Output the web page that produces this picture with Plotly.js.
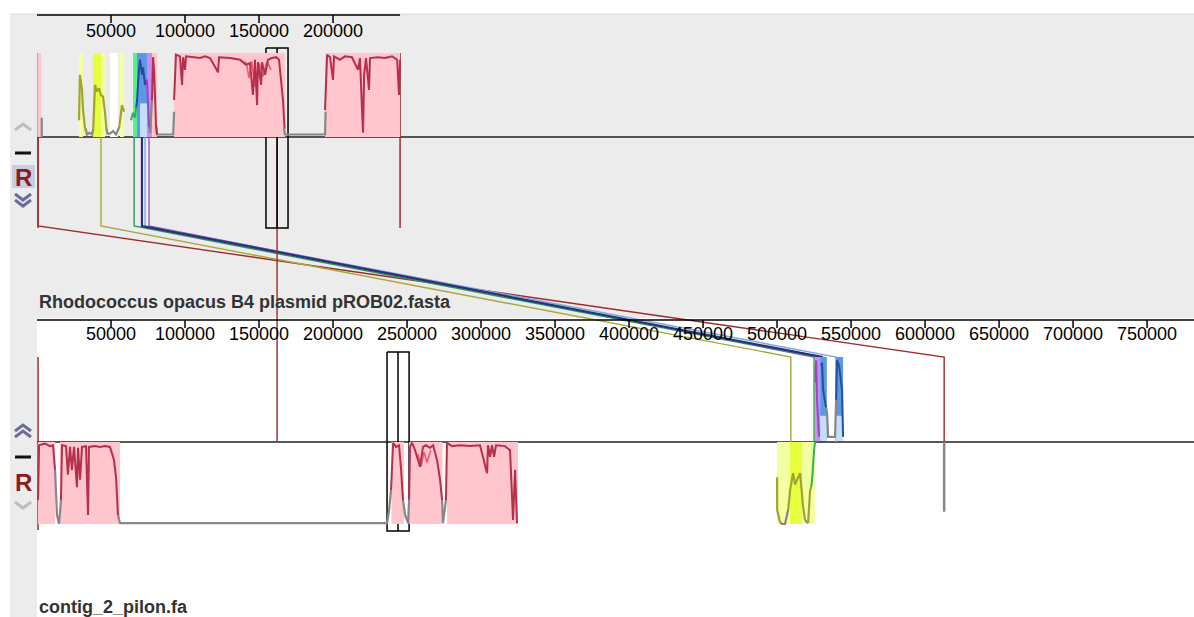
<!DOCTYPE html>
<html><head><meta charset="utf-8">
<script src="https://cdn.plot.ly/plotly-3.0.1.min.js"></script>
<style>html,body{margin:0;padding:0;background:#fff;overflow:hidden}#chart{width:1194px;height:617px}</style>
</head><body><div id="chart"></div>
<script>
// ================= DATA (base pairs / similarity 0..1) =================
const genomeNames = ["Rhodococcus opacus B4 plasmid pROB02.fasta", "contig_2_pilon.fa"];
const viewEndBp = 781700;
const g1LengthBp = 245300;
const g1TickVals = [50000, 100000, 150000, 200000];
const g2TickVals = [50000, 100000, 150000, 200000, 250000, 300000, 350000, 400000, 450000, 500000, 550000, 600000, 650000, 700000, 750000];

// ---- genome 1 (upper) segments ----
const g1PinkStart = [300, 77700, 92600, 194600];
const g1PinkEnd   = [3000, 81100, 167600, 245300];
const g1YellowPaleStart = [28400, 43200, 56100];
const g1YellowPaleEnd   = [31100, 46000, 58800];
const g1YellowBrightStart = [37800];
const g1YellowBrightEnd   = [43200];
const g1WhiteStart = [49300];
const g1WhiteEnd   = [54700];
const g1GreenStart = [64900];
const g1GreenEnd   = [67600];
const g1BlueStart = [67600];
const g1BlueEnd   = [74300];
const g1LightBlueStart = [69600];
const g1LightBlueEnd   = [74300];
const g1LightBlueTop   = [0.4];
const g1PurpleStart = [74300];
const g1PurpleEnd   = [77700];

const g1RedProfPos = [77700, 78400, 79100, 79700, 80400, 81100, null,
  92600, 93200, 93900, 96600, 98000, 98700, 100000, 100700, 106800, 110100, 113500, 116900, 122300, 123000, 130400, 137200, 141200, 143900, 145900, 147300, 148700, 149300, 151400, 152000, 154100, 156100, 158800, 161500, 163500, 164900, 166200, 167300, null,
  194600, 195300, 196000, 198000, 200000, 200700, 204700, 208100, 212800, 216900, 218200, 219600, 220300, 221000, 222300, 224300, 225000, 230400, 235100, 239900, 243300, 244600, 245300];
const g1RedProfSim = [0.44, 0.95, 0.8, 0.44, 0.14, 0.03, null,
  0.44, 0.8, 0.98, 0.96, 0.62, 0.95, 0.8, 0.96, 0.95, 0.94, 0.96, 0.94, 0.77, 0.95, 0.94, 0.92, 0.86, 0.88, 0.5, 0.92, 0.38, 0.89, 0.62, 0.89, 0.74, 0.92, 0.94, 0.95, 0.92, 0.68, 0.44, 0.1, null,
  0.32, 0.8, 0.98, 0.95, 0.68, 0.96, 0.92, 0.96, 0.95, 0.8, 0.94, 0.32, 0.05, 0.74, 0.94, 0.56, 0.94, 0.95, 0.94, 0.96, 0.92, 0.5, 0.92];
const g1LightRedProfPos = [140500, 141900, 143200, 145000, 147300, 150000, 152700, 155400, 158100];
const g1LightRedProfSim = [0.9, 0.84, 0.7, 0.9, 0.6, 0.88, 0.72, 0.9, 0.8];
const g1OliveProfPos = [28400, 29000, 30400, 31100, 32400, 33400, null, 38000, 38500, 39200, 40500, 41900, 43200, 44600, 45900, 47000, null, 55600, 56100, 57400, 58400, 58800];
const g1OliveProfSim = [0.2, 0.74, 0.56, 0.32, 0.11, 0.05, null, 0.1, 0.44, 0.62, 0.54, 0.58, 0.5, 0.48, 0.3, 0.08, null, 0.12, 0.2, 0.38, 0.33, 0.3];
const g1GreenProfPos = [63500, 64900, 66200, 67000];
const g1GreenProfSim = [0.2, 0.29, 0.23, 0.35];
const g1NavyProfPos = [67000, 67600, 68900, 69600, 71000, 71600, 73000, 74300];
const g1NavyProfSim = [0.35, 0.44, 0.8, 0.92, 0.74, 0.83, 0.62, 0.68];
const g1PurpleProfPos = [74300, 75000, 75700];
const g1PurpleProfSim = [0.68, 0.32, 0.12];
const g1GrayProfPos = [3200, 3200, null, 32900, 33800, 35500, 37200, 38100, null, 46900, 47600, 49300, 51400, 53400, 54700, 55600, null, 75600, 76400, 77700, null, 80400, 81100, 92000, 92600, null, 166900, 167600, 194600, 195000];
const g1GrayProfSim = [0.23, 0, null, 0.1, 0.03, 0.05, 0.03, 0.1, null, 0.1, 0.04, 0.04, 0.07, 0.03, 0.08, 0.12, null, 0.15, 0.05, 0.44, null, 0.14, 0.03, 0.03, 0.3, null, 0.1, 0.03, 0.03, 0.3];

// ---- genome 2 (lower) segments ----
const g2PinkStart = [700, 15500, 239500, 251400, 277000];
const g2PinkEnd   = [12300, 56100, 248000, 274000, 325000];
const g2RedProfPos = [700, 1400, 5400, 8800, 10800, 12200, null, 16200, 16900, 19600, 20900, 22300, 23600, 25000, 27000, 27700, 29100, 30400, 33100, 34500, 35100, 39200, 42600, 45900, 49300, 52000, 53400, 54700, null,
  239200, 239900, 240600, 242600, 244600, 246000, 247300, null, 251400, 252000, 253400, 255400, 257400, 258800, 260800, 262800, 265500, 267600, 270300, 272300, 273700, null,
  276300, 277000, 280400, 285800, 292600, 299300, 304100, 304700, 306100, 307400, 308800, 310100, 316200, 319600, 321600, 323000, 324300];
const g2RedProfSim = [0.29, 0.96, 0.98, 0.95, 0.96, 0.66, null, 0.29, 0.96, 0.95, 0.6, 0.94, 0.66, 0.94, 0.45, 0.93, 0.54, 0.94, 0.95, 0.11, 0.94, 0.95, 0.94, 0.95, 0.94, 0.78, 0.57, 0.11, null,
  0.41, 0.82, 0.99, 0.94, 0.96, 0.66, 0.29, null, 0.3, 0.94, 0.99, 0.9, 0.78, 0.7, 0.94, 0.96, 0.93, 0.96, 0.78, 0.54, 0.29, null,
  0.29, 0.99, 0.95, 0.96, 0.95, 0.96, 0.62, 0.96, 0.82, 0.96, 0.82, 0.96, 0.95, 0.9, 0.05, 0.66, 0.01];
const g2LightRedProfPos = [257400, 259500, 261500, 263500, 266000];
const g2LightRedProfSim = [0.85, 0.7, 0.88, 0.75, 0.9];
const g2GrayProfPos = [12200, 13500, 14900, 16200, null, 54700, 56100, 236500, 237900, 239200, null, 247300, 248700, 250700, 251400, null, 273700, 274300, 276300, null,
  502000, 503500, 505400, 507500, null, 518900, 521000];
const g2GrayProfSim = [0.66, 0.11, 0.0, 0.29, null, 0.11, 0.01, 0.01, 0.17, 0.41, null, 0.29, 0.11, 0.01, 0.3, null, 0.29, 0.01, 0.29, null,
  0.02, 0.0, 0.0, 0.17, null, 0.05, 0.01];
const g2YellowPaleStart = [500000, 516900];
const g2YellowPaleEnd   = [508800, 525700];
const g2YellowBrightStart = [508800];
const g2YellowBrightEnd   = [516900];
const g2OliveProfPos = [500000, 500100, 502000, null, 507500, 508800, 510800, 512200, 513500, 515600, 517600, 518900, null, 521000, 522300, 523000];
const g2OliveProfSim = [0.57, 0.17, 0.02, null, 0.17, 0.41, 0.62, 0.48, 0.54, 0.62, 0.21, 0.05, null, 0.01, 0.41, 0.45];
const g2GreenProfPos = [523000, 523700, 525000, 525700];
const g2GreenProfSim = [0.45, 0.54, 0.9, 1.0];
// forward-strand blocks of genome 2 (above its centre line)
const g2PurpleStart = [525700];
const g2PurpleEnd   = [529100];
const g2BlueStart = [529100, 539600];
const g2BlueEnd   = [533600, 544600];
const g2LightBlueTop = [0.3, 0.3];
const g2PurpleProfPos = [526000, 526400, 527000, 528400];
const g2PurpleProfSim = [0.7, 0.96, 0.49, 0.05];
const g2BlueProfPos = [529700, 530400, 531100, 532400, 533100, null, 539900, 540500, 541900, 543900, 544600];
const g2BlueProfSim = [0.9, 0.93, 0.61, 0.49, 0.4, null, 0.49, 0.96, 0.9, 0.61, 0.05];
const g2FwdGrayProfPos = [533100, 533800, 534500, 539200, 539900];
const g2FwdGrayProfSim = [0.4, 0.33, 0.05, 0.05, 0.49];
const g2TinyBlockPos = [612900, 612900];
const g2TinyBlockSim = [1.0, 0.15];

// ---- LCB connecting lines (genome1 position -> genome2 position) ----
const connKey    = ["red", "olive", "green", "lightblue", "purple", "navy", "red"];
const connG1Pos  = [700, 43200, 65600, 73000, 75700, 70900, 162200];
const connG2Pos  = [612900, 509300, 525000, 539900, 527000, 530400, 162200];
// LCB boundary markers
const g1BoundaryPos = [700, 245300];
const g2BoundaryPos = [700];
// selection boxes (start, divider, end)
const g1BoxPos = [154700, 162200, 169600];
const g2BoxPos = [236500, 243900, 251400];

// ================= STYLE / GEOMETRY =================
const W = 1194, H = 617, X0 = 37;
const GEO = {upRuler: 15, upTop: 53, upCenter: 137, upLineEnd: 226, upBoxTop: 48, upBoxBot: 228, upBoundBot: 228,
  split: 318, lowRuler: 320, lowLineStart: 357, lowCenter: 442, lowBottom: 524, lowBoxTop: 352, lowBoxBot: 531, lowBoundBot: 530, tickLen: 8};
const C = {pink: '#ffc6ce', red: '#b5304a', lightRed: '#ee5c78', gray: '#878787', olive: '#a3a332', yPale: '#f3ffa0', yBright: '#e6ff3c',
  green: '#2fb35a', greenFill: '#55f08a', blue: '#5b98e6', lightBlue: '#c4defc', navy: '#2a4c9c', purple: '#9b45c9',
  purpleFill: '#c98cf2', white: '#ffffff'};
const connColor = {red: '#9e2a2a', olive: '#a6a83e', green: '#2e9a50', navy: '#26337a', purple: '#9a55c6', lightblue: '#7ea8dc'};
const connWidth = {red: 1.4, olive: 1.4, green: 1.4, navy: 2.2, purple: 1.4, lightblue: 1.4};

const traces = [];
function rects(xa, ya, starts, ends, color, tops) {
  const xs = [], ys = [];
  starts.forEach((s, i) => {
    const t = tops ? tops[i] : 1;
    xs.push(s, s, ends[i], ends[i], s, null);
    ys.push(0, t, t, 0, 0, null);
  });
  traces.push({type: 'scatter', mode: 'lines', xaxis: xa, yaxis: ya, x: xs, y: ys, fill: 'toself',
    fillcolor: color, line: {width: 0, color: color}, hoverinfo: 'skip'});
}
function line(xa, ya, xs, ys, color, width) {
  traces.push({type: 'scatter', mode: 'lines', xaxis: xa, yaxis: ya, x: xs, y: ys,
    line: {color: color, width: width || 2}, hoverinfo: 'skip', connectgaps: false});
}
function tickMarks(vals, y0) {
  const xs = [], ys = [];
  vals.forEach(v => { xs.push(v, v, null); ys.push(y0, y0 + GEO.tickLen, null); });
  line('x', 'y', xs, ys, '#000', 1.5);
}

// frame decorations on (x, y): rulers and centre lines
line('x', 'y', [0, g1LengthBp], [GEO.upRuler, GEO.upRuler], '#000', 1.5);
line('x', 'y', [0, viewEndBp], [GEO.upCenter, GEO.upCenter], '#222', 1.5);

// genome 1 track (x, y2)
rects('x', 'y2', g1PinkStart, g1PinkEnd, C.pink);
rects('x', 'y2', g1YellowPaleStart, g1YellowPaleEnd, C.yPale);
rects('x', 'y2', g1YellowBrightStart, g1YellowBrightEnd, C.yBright);
rects('x', 'y2', g1WhiteStart, g1WhiteEnd, C.white);
rects('x', 'y2', g1GreenStart, g1GreenEnd, C.greenFill);
rects('x', 'y2', g1BlueStart, g1BlueEnd, C.blue);
rects('x', 'y2', g1LightBlueStart, g1LightBlueEnd, C.lightBlue, g1LightBlueTop);
rects('x', 'y2', g1PurpleStart, g1PurpleEnd, C.purpleFill);
line('x', 'y2', g1GrayProfPos, g1GrayProfSim, C.gray, 2.2);
line('x', 'y2', g1LightRedProfPos, g1LightRedProfSim, C.lightRed, 1.6);
line('x', 'y2', g1RedProfPos, g1RedProfSim, C.red, 2);
line('x', 'y2', g1OliveProfPos, g1OliveProfSim, C.olive, 2.2);
line('x', 'y2', g1GreenProfPos, g1GreenProfSim, C.green, 2);
line('x', 'y2', g1NavyProfPos, g1NavyProfSim, C.navy, 2);
line('x', 'y2', g1PurpleProfPos, g1PurpleProfSim, C.purple, 2);

// genome 2 reverse blocks (x2, y4) and forward blocks (x2, y3)
rects('x2', 'y4', g2PinkStart, g2PinkEnd, C.pink);
rects('x2', 'y4', g2YellowPaleStart, g2YellowPaleEnd, C.yPale);
rects('x2', 'y4', g2YellowBrightStart, g2YellowBrightEnd, C.yBright);
line('x2', 'y4', g2GrayProfPos, g2GrayProfSim, C.gray, 2.2);
line('x2', 'y4', g2LightRedProfPos, g2LightRedProfSim, C.lightRed, 1.6);
line('x2', 'y4', g2RedProfPos, g2RedProfSim, C.red, 2);
line('x2', 'y4', g2OliveProfPos, g2OliveProfSim, C.olive, 2.2);
line('x2', 'y4', g2GreenProfPos, g2GreenProfSim, C.green, 2);
line('x2', 'y4', g2TinyBlockPos, g2TinyBlockSim, C.gray, 2.5);
rects('x2', 'y3', g2PurpleStart, g2PurpleEnd, C.purpleFill);
rects('x2', 'y3', g2BlueStart, g2BlueEnd, C.blue);
rects('x2', 'y3', g2BlueStart, g2BlueEnd, C.lightBlue, g2LightBlueTop);
line('x2', 'y3', g2FwdGrayProfPos, g2FwdGrayProfSim, C.gray, 2.2);
line('x2', 'y3', g2PurpleProfPos, g2PurpleProfSim, C.purple, 2);
line('x2', 'y3', g2BlueProfPos, g2BlueProfSim, C.navy, 2);

// lower centre line
line('x', 'y', [0, viewEndBp], [GEO.lowCenter, GEO.lowCenter], '#222', 1.5);

// boundaries
g1BoundaryPos.forEach(p => line('x', 'y', [p, p], [GEO.upTop, GEO.upBoundBot], connColor.red, 1.5));
g2BoundaryPos.forEach(p => line('x', 'y', [p, p], [GEO.lowLineStart, GEO.lowBoundBot], connColor.red, 1.5));

// connectors
connKey.forEach((k, i) => {
  const a = connG1Pos[i], b = connG2Pos[i];
  line('x', 'y', [a, a, b, b], [GEO.upCenter, GEO.upLineEnd, GEO.lowLineStart, GEO.lowCenter], connColor[k], connWidth[k]);
});

// selection boxes
function box(pos, top, bot) {
  line('x', 'y', [pos[0], pos[2], pos[2], pos[0], pos[0], null, pos[1], pos[1]],
    [top, top, bot, bot, top, null, top, bot], '#000', 1.5);
}
box(g1BoxPos, GEO.upBoxTop, GEO.upBoxBot);
box(g2BoxPos, GEO.lowBoxTop, GEO.lowBoxBot);

// ruler tick marks
tickMarks(g1TickVals, GEO.upRuler);
tickMarks(g2TickVals, GEO.lowRuler);

// ================= LAYOUT =================
function trackAxis(pxZero, pxOne, pad) {
  const h = pxZero - pxOne;
  return {domain: [(H - (pxZero + pad)) / H, (H - (pxOne - pad)) / H], range: [-pad / h, 1 + pad / h],
    visible: false, fixedrange: true, anchor: 'x'};
}
const tickFont = {family: 'Liberation Sans, Arial, sans-serif', size: 18, color: '#000'};
function rulerAxis(pxY, vals) {
  return {domain: [X0 / W, 1], range: [0, viewEndBp], anchor: 'free', position: (H - pxY) / H, side: 'bottom',
    tickvals: vals, ticktext: vals.map(v => String(v)), ticks: '', showline: false,
    showgrid: false, zeroline: false, tickfont: tickFont, fixedrange: true, layer: 'below traces'};
}
const xa1 = rulerAxis(GEO.upRuler + 3, g1TickVals);
const xa2 = rulerAxis(GEO.lowRuler + 1, g2TickVals);

const PX = v => v / W;
const panelGray = '#ececec';
function chevron(cx, cy, dir, color) {
  const w = 8, h = 6;
  return {type: 'path', xref: 'paper', yref: 'y', layer: 'above',
    path: `M ${PX(cx - w)},${cy - dir * h / 2} L ${PX(cx)},${cy + dir * h / 2} L ${PX(cx + w)},${cy - dir * h / 2}`,
    line: {color: color, width: 3}};
}
const shapes = [
  {type: 'rect', xref: 'paper', yref: 'y', x0: PX(10), x1: 1, y0: 14, y1: GEO.split, fillcolor: panelGray, line: {width: 0}, layer: 'below'},
  {type: 'line', xref: 'paper', yref: 'y', x0: PX(10), x1: 1, y0: 14, y1: 14, line: {color: '#dcdcdc', width: 1}, layer: 'below'},
  {type: 'rect', xref: 'paper', yref: 'y', x0: PX(10), x1: PX(X0), y0: GEO.split, y1: H, fillcolor: panelGray, line: {width: 0}, layer: 'below'},
  {type: 'line', xref: 'paper', yref: 'y', x0: PX(X0), x1: 1, y0: GEO.lowRuler, y1: GEO.lowRuler, line: {color: '#000', width: 1.5}},
  {type: 'rect', xref: 'paper', yref: 'y', x0: PX(12), x1: PX(35), y0: 165, y1: 188, fillcolor: '#c6cee0', line: {width: 0}, layer: 'below'},
  chevron(23, 127, -1, '#bdbdbd'),
  {type: 'line', xref: 'paper', yref: 'y', x0: PX(15), x1: PX(31), y0: 153, y1: 153, line: {color: '#111', width: 3}},
  chevron(23, 197, 1, '#6c6c9c'), chevron(23, 203, 1, '#6c6c9c'),
  chevron(23, 428, -1, '#6c6c9c'), chevron(23, 434, -1, '#6c6c9c'),
  {type: 'line', xref: 'paper', yref: 'y', x0: PX(15), x1: PX(31), y0: 457, y1: 457, line: {color: '#111', width: 3}},
  chevron(23, 505, 1, '#bdbdbd')
];
const labelFont = {family: 'Liberation Sans, Arial, sans-serif', size: 18, color: '#333'};
const annotations = [
  {xref: 'paper', yref: 'y', x: PX(37), y: 302, xanchor: 'left', yanchor: 'middle', showarrow: false, text: '<b>' + genomeNames[0] + '</b>', font: labelFont},
  {xref: 'paper', yref: 'y', x: PX(37), y: 607, xanchor: 'left', yanchor: 'middle', showarrow: false, text: '<b>' + genomeNames[1] + '</b>', font: labelFont},
  {xref: 'paper', yref: 'y', x: PX(23.5), y: 177, xanchor: 'center', yanchor: 'middle', showarrow: false, text: '<b>R</b>', font: {family: 'Liberation Sans, Arial, sans-serif', size: 24, color: '#8e1c1c'}},
  {xref: 'paper', yref: 'y', x: PX(23.5), y: 482, xanchor: 'center', yanchor: 'middle', showarrow: false, text: '<b>R</b>', font: {family: 'Liberation Sans, Arial, sans-serif', size: 24, color: '#8e1c1c'}}
];

const layout = {
  width: W, height: H, margin: {l: 0, r: 0, t: 0, b: 0, pad: 0}, paper_bgcolor: '#ffffff', plot_bgcolor: 'rgba(0,0,0,0)',
  showlegend: false, hovermode: false,
  xaxis: xa1, xaxis2: xa2,
  yaxis: {domain: [0, 1], range: [H, 0], visible: false, fixedrange: true, anchor: 'x'},
  yaxis2: trackAxis(GEO.upCenter, GEO.upTop, 4),
  yaxis3: trackAxis(441, GEO.lowLineStart, 4),
  yaxis4: trackAxis(GEO.lowBottom, GEO.lowCenter, 4),
  shapes: shapes, annotations: annotations
};
layout.yaxis4.anchor = 'x2'; layout.yaxis3.anchor = 'x2';
Plotly.newPlot('chart', traces, layout, {displayModeBar: false, staticPlot: true});
</script></body></html>
